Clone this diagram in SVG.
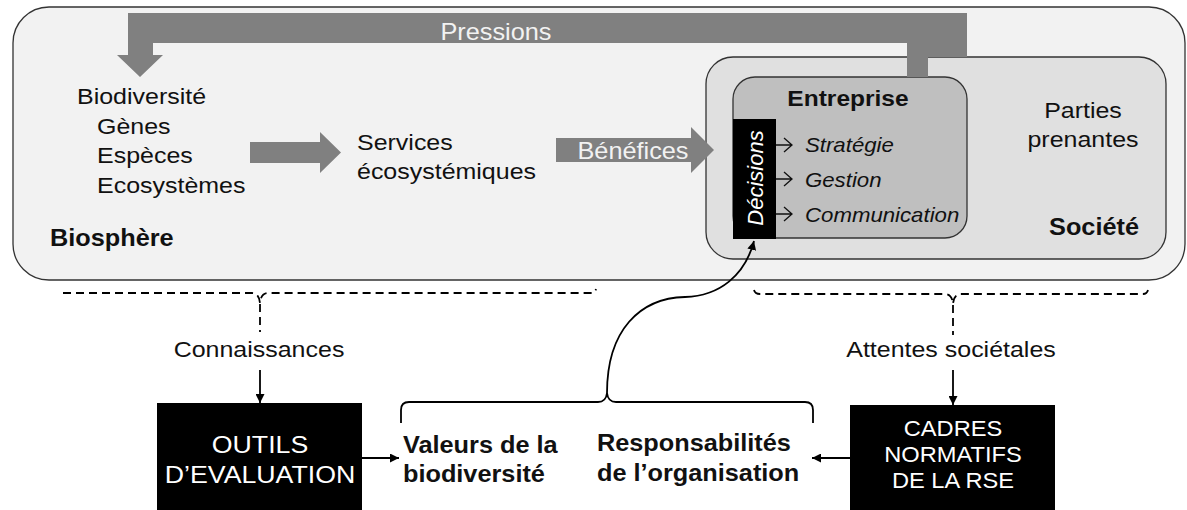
<svg xmlns="http://www.w3.org/2000/svg" width="1187" height="510" viewBox="0 0 1187 510">
<defs>
<style>
text{font-family:"Liberation Sans",Arial,sans-serif;fill:#111}
.n{font-size:22.7px}
.b{font-size:23px;font-weight:bold}
.be{font-size:22.3px;font-weight:bold}
.it{font-size:20.2px;font-style:italic}
.w{font-size:23px;fill:#f2f2f2}
.bx{font-size:24.3px;fill:#fff}
.bx2{font-size:21.5px;fill:#fff}
.dec{font-size:22px;font-style:italic;fill:#fff}
.blk{fill:#808080}
.ln{fill:none;stroke:#000;stroke-width:1.8}
.dash{fill:none;stroke:#000;stroke-width:1.8;stroke-dasharray:8 5}
.sm{fill:none;stroke:#111;stroke-width:1.3}
</style>
<marker id="ah" viewBox="0 0 10 10" refX="10" refY="5" markerWidth="9" markerHeight="9" markerUnits="userSpaceOnUse" orient="auto">
<path d="M0,0 L10,5 L0,10 z" fill="#000"/>
</marker>
</defs>
<rect width="1187" height="510" fill="#fff"/>

<g id="biosphere">
<rect x="13" y="7" width="1172" height="273" rx="36" fill="#f2f2f2" stroke="#333" stroke-width="1.3"/>
<text class="b" transform="translate(50 246) scale(1.1 1)">Biosphère</text>
</g>

<g id="biodiversite">
<text class="n" transform="translate(77 104) scale(1.1 1)">Biodiversité</text>
<text class="n" transform="translate(97 133.5) scale(1.1 1)">Gènes</text>
<text class="n" transform="translate(97 163) scale(1.1 1)">Espèces</text>
<text class="n" transform="translate(97 192.5) scale(1.1 1)">Ecosystèmes</text>
</g>

<g id="services">
<text class="n" transform="translate(357 150) scale(1.1 1)">Services</text>
<text class="n" transform="translate(357 179) scale(1.1 1)">écosystémiques</text>
</g>

<g id="societe">
<rect x="706" y="57" width="460" height="202" rx="27" fill="#e0e0e0" stroke="#333" stroke-width="1.3"/>
<text class="n" text-anchor="middle" transform="translate(1083 118) scale(1.1 1)">Parties</text>
<text class="n" text-anchor="middle" transform="translate(1083 147) scale(1.1 1)">prenantes</text>
<text class="b" text-anchor="end" transform="translate(1139 235) scale(1.1 1)">Société</text>
</g>

<g id="entreprise">
<rect x="733" y="77" width="234" height="161" rx="22" fill="#bfbfbf" stroke="#333" stroke-width="1.3"/>
<text class="be" text-anchor="middle" transform="translate(848 106) scale(1.1 1)">Entreprise</text>
<path class="sm" d="M776,145 H792 M784,138 L792,145 L784,152"/>
<path class="sm" d="M776,179 H792 M784,172 L792,179 L784,186"/>
<path class="sm" d="M776,214 H792 M784,207 L792,214 L784,221"/>
<text class="it" transform="translate(805 152) scale(1.1 1)">Stratégie</text>
<text class="it" transform="translate(805 187) scale(1.1 1)">Gestion</text>
<text class="it" transform="translate(805 222) scale(1.1 1)">Communication</text>
</g>

<g id="decisions">
<rect x="733" y="119" width="43" height="120" fill="#000"/>
<text class="dec" text-anchor="middle" transform="translate(763 178) rotate(-90)">Décisions</text>
</g>

<g id="connectors">
<path class="blk" d="M128,13 H967 V57 H928 V77 H907 V43 H153 V55 H163 L140,77 L117,55 H128 Z"/>
<text class="w" text-anchor="middle" transform="translate(496 40) scale(1.1 1)">Pressions</text>
<path class="blk" d="M250,142 H320 V132 L341,152.5 L320,173 V163 H250 Z"/>
<path class="blk" d="M556,138 H691 V127 L714,150 L691,173 V162 H556 Z"/>
<text class="w" text-anchor="middle" transform="translate(633 159) scale(1.1 1)">Bénéfices</text>

<path class="dash" d="M63,293 H252 Q259,293 260,303 Q261,293 268,293 H591 Q595,293 596,289"/>
<path class="dash" d="M260,304 V332"/>
<path class="dash" d="M754,290 Q755,294 760,294 H945 Q952,294 953,304 Q954,294 961,294 H1143 Q1147,294 1148,290"/>
<path class="dash" d="M953,305 V335"/>

<path class="ln" d="M260,370 V403" marker-end="url(#ah)"/>
<path class="ln" d="M953,370 V405" marker-end="url(#ah)"/>
<path class="ln" d="M362,458 H399" marker-end="url(#ah)"/>
<path class="ln" d="M850,458 H812" marker-end="url(#ah)"/>

<path class="ln" d="M401,423 V410 Q401,402 409,402 H598 Q606,402 607,393 Q608,402 616,402 H805 Q813,402 813,410 V423"/>
<path class="ln" d="M607,393 C607,330 640,298 685,297 C720,296 745,275 754,241" marker-end="url(#ah)"/>

<text class="n" text-anchor="middle" transform="translate(259 357) scale(1.1 1)">Connaissances</text>
<text class="n" text-anchor="middle" transform="translate(951 357) scale(1.1 1)">Attentes sociétales</text>
</g>

<g id="outils">
<rect x="157" y="403" width="205" height="110" fill="#000"/>
<text class="bx" text-anchor="middle" transform="translate(260 453) scale(1.1 1)">OUTILS</text>
<text class="bx" text-anchor="middle" transform="translate(260 483) scale(1.1 1)">D’EVALUATION</text>
</g>

<g id="cadres">
<rect x="850" y="405" width="205" height="108" fill="#000"/>
<text class="bx2" text-anchor="middle" transform="translate(953 436) scale(1.1 1)">CADRES</text>
<text class="bx2" text-anchor="middle" transform="translate(953 462) scale(1.1 1)">NORMATIFS</text>
<text class="bx2" text-anchor="middle" transform="translate(953 488) scale(1.1 1)">DE LA RSE</text>
</g>

<g id="valeurs">
<text class="b" transform="translate(403 453) scale(1.1 1)">Valeurs de la</text>
<text class="b" transform="translate(403 482) scale(1.1 1)">biodiversité</text>
</g>

<g id="responsabilites">
<text class="b" transform="translate(597 451) scale(1.1 1)">Responsabilités</text>
<text class="b" transform="translate(597 481) scale(1.1 1)">de l’organisation</text>
</g>
</svg>
